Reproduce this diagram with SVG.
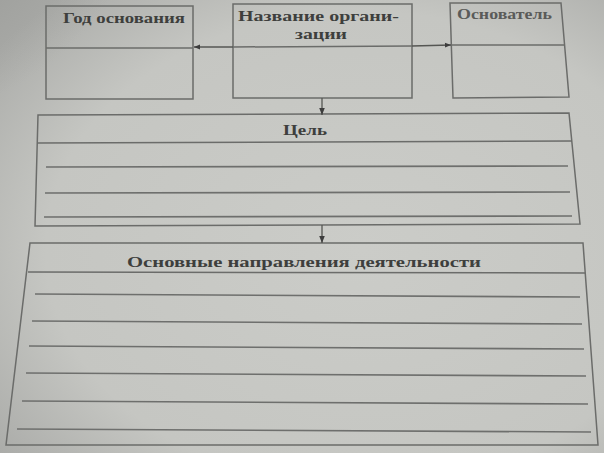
<svg xmlns="http://www.w3.org/2000/svg" width="604" height="453" viewBox="0 0 604 453">
<defs>
<radialGradient id="paper" cx="0.6" cy="0.55" r="0.75">
<stop offset="0" stop-color="#cbccc8"/>
<stop offset="0.7" stop-color="#c5c6c2"/>
<stop offset="1" stop-color="#abaca9"/>
</radialGradient>
<radialGradient id="corner" cx="0" cy="0" r="1">
<stop offset="0" stop-color="#858683" stop-opacity="0.9"/>
<stop offset="1" stop-color="#858683" stop-opacity="0"/>
</radialGradient>
<marker id="arr" viewBox="0 0 10 10" refX="10" refY="5" markerWidth="7" markerHeight="6" orient="auto" markerUnits="userSpaceOnUse">
<path d="M0,1 L10,5 L0,9 Z" fill="#3d3d3d"/>
</marker>
<marker id="arr2" viewBox="0 0 10 10" refX="10" refY="5" markerWidth="8" markerHeight="7" orient="auto" markerUnits="userSpaceOnUse">
<path d="M0,1 L10,5 L0,9 Z" fill="#3d3d3d"/>
</marker>
</defs>
<style>
.box{fill:none;stroke:#6b6c6a;stroke-width:1.5;stroke-linejoin:miter}
.rule{fill:none;stroke:#6e6f6d;stroke-width:1.6}
.con{fill:none;stroke:#555653;stroke-width:1.3}
.t{font-family:"Liberation Serif","DejaVu Serif",serif;font-weight:bold;font-size:15px;fill:#3e3f3d}
.lt{fill:#5a5b59}
</style>
<rect x="0" y="0" width="604" height="453" fill="url(#paper)"/>
<ellipse cx="0" cy="0" rx="150" ry="130" fill="url(#corner)"/>

<g id="node-year">
<path class="box" d="M46,6 L193,6 L193,99 L46,99 Z"/>
<path class="box" d="M46,48 L193,48"/>
<text class="t" x="63" y="23" textLength="122" lengthAdjust="spacingAndGlyphs">Год основания</text>
</g>

<g id="node-name">
<path class="box" d="M233,4 L412,4 L412,98 L233,98 Z"/>
<path class="box" d="M233,47 L412,46"/>
<text class="t" x="238" y="21" textLength="161" lengthAdjust="spacingAndGlyphs">Название органи-</text>
<text class="t" x="295" y="39" textLength="52" lengthAdjust="spacingAndGlyphs">зации</text>
</g>

<g id="node-founder">
<path class="box" d="M450,3 L561,3 L569,97 L453,98 Z"/>
<path class="box" d="M451,45 L565,45"/>
<text class="t lt" x="457" y="19" textLength="95" lengthAdjust="spacingAndGlyphs">Основатель</text>
</g>

<g id="node-goal">
<path class="box" d="M38,115 L569,113 L580,224 L35,226 Z"/>
<path class="box" d="M37,143 L572,141"/>
<path class="rule" d="M46,167 L568,166"/>
<path class="rule" d="M45,193 L570,192"/>
<path class="rule" d="M44,217 L572,216"/>
<text class="t" x="283" y="135" textLength="44" lengthAdjust="spacingAndGlyphs">Цель</text>
</g>

<g id="node-activities">
<path class="box" d="M30,243 L583,243 L598,445 L6,445 Z"/>
<path class="box" d="M28,272 L585,273"/>
<path class="rule" d="M35,294 L580,297"/>
<path class="rule" d="M32,321 L582,324"/>
<path class="rule" d="M29,346 L584,349"/>
<path class="rule" d="M26,373 L586,376"/>
<path class="rule" d="M22,401 L588,404"/>
<path class="rule" d="M17,429 L591,432"/>
<text class="t" x="127" y="267" textLength="354" lengthAdjust="spacingAndGlyphs">Основные направления деятельности</text>
</g>

<g id="connectors">
<path class="con" d="M233,47 L194,47" marker-end="url(#arr)"/>
<path class="con" d="M412,46 L451,45" marker-end="url(#arr)"/>
<path class="con" d="M322,98 L322,115" marker-end="url(#arr2)"/>
<path class="con" d="M322,225 L322,243" marker-end="url(#arr2)"/>
</g>
</svg>
